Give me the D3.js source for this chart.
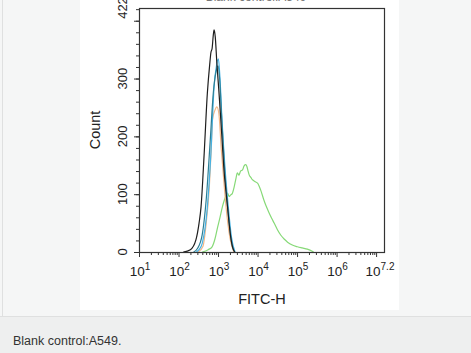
<!DOCTYPE html>
<html>
<head>
<meta charset="utf-8">
<script src="https://cdn.jsdelivr.net/npm/d3@7"></script>
<style>
  html, body { margin: 0; padding: 0; }
  body { width: 471px; height: 353px; overflow: hidden; background: #eeefef; font-family: "Liberation Sans", Arial, sans-serif; }
  #chart { display: block; }
</style>
</head>
<body>
<div id="chart"></div>
<script>
// Histogram series: [log10(FITC-H), count]
const blackSeries = [[2.12,0],[2.3,4],[2.44,21],[2.52,50],[2.57,78],[2.65,171],[2.73,275],[2.79,325],[2.82,345],[2.85,352],[2.88,375],[2.9,384],[2.93,372],[2.97,327],[3.02,280],[3.07,229],[3.11,185],[3.15,142],[3.2,105],[3.24,78],[3.28,50],[3.32,26],[3.37,8],[3.42,0]];
const tealSeries = [[2.38,0],[2.48,6],[2.6,30],[2.7,90],[2.8,190],[2.88,275],[2.95,312],[3.0,322],[3.04,300],[3.09,236],[3.16,150],[3.24,80],[3.32,28],[3.37,8],[3.43,0]];
const blueSeries = [[2.45,0],[2.52,4],[2.6,15],[2.73,78],[2.82,171],[2.9,286],[2.96,322],[3.01,334],[3.05,300],[3.1,229],[3.18,142],[3.26,78],[3.34,26],[3.43,0]];
const orangeSeries = [[2.5,0],[2.62,10],[2.69,43],[2.78,113],[2.83,180],[2.86,229],[2.92,245],[2.97,251],[3.02,240],[3.08,180],[3.15,120],[3.23,60],[3.32,18],[3.4,0]];
const greenSeries = [[2.6,0],[2.75,4],[2.85,9],[2.92,22],[2.99,43],[3.05,60],[3.11,78],[3.16,90],[3.2,97],[3.24,102],[3.28,96],[3.31,98],[3.36,101],[3.41,113],[3.45,126],[3.49,137],[3.53,133],[3.57,140],[3.62,142],[3.66,149],[3.7,151],[3.73,148],[3.76,140],[3.79,133],[3.83,129],[3.87,125],[3.93,122],[4.0,119],[4.08,107],[4.16,90],[4.22,79],[4.29,68],[4.36,58],[4.42,50],[4.5,39],[4.59,29],[4.68,22],[4.76,17],[4.88,12],[5.01,9],[5.13,7],[5.26,5],[5.42,0]];

const seriesList = [
  { data: greenSeries, color: "#86d977" },
  { data: orangeSeries, color: "#f2b787" },
  { data: blueSeries, color: "#45b3e6" },
  { data: tealSeries, color: "#2d7f95" },
  { data: blackSeries, color: "#1e1e1e" }
];

// Tick values
const xMajor = [1, 2, 3, 4, 5, 6, 7];
const xLabels = [1, 2, 3, 4, 5, 6, 7.2];
const yMajor = [0, 100, 200, 300, 400];
const yLabels = [0, 100, 200, 300, 422];
const yMinor = d3.range(0, 421, 20);
const xMinor = [];
for (let e = 1; e < 8; e++)
  for (let m = 2; m < 10; m++)
    if (e + Math.log10(m) < 7.2) xMinor.push(e + Math.log10(m));

const W = 471, H = 353;
const svg = d3.select("#chart").append("svg")
  .attr("width", W)
  .attr("height", H);

// page panels
svg.append("rect").attr("x", 0).attr("y", 0).attr("width", W).attr("height", 316).attr("fill", "#f5f6f6");
svg.append("line").attr("x1", 0).attr("x2", W).attr("y1", 316.5).attr("y2", 316.5).attr("stroke", "#dfe0e0");
svg.append("line").attr("x1", 2.5).attr("x2", 2.5).attr("y1", 0).attr("y2", 316).attr("stroke", "#dfe0e0");
svg.append("rect").attr("x", 80).attr("y", 0).attr("width", 319).attr("height", 310).attr("fill", "#fff");

// plot frame
const pLeft = 139, pRight = 384, pTop = 8, pBottom = 252;
const x = d3.scaleLinear().domain([1, 7.2]).range([pLeft, pRight]);
const y = d3.scaleLinear().domain([0, 422]).range([pBottom, pTop]);

// clipped title fragment
svg.append("text")
  .attr("x", 256).attr("y", 1)
  .attr("text-anchor", "middle")
  .attr("font-size", 12)
  .attr("fill", "#777")
  .text("Blank control:A549");

const plot = svg.append("g");

// curves
const line = d3.line()
  .x(d => x(d[0]))
  .y(d => y(d[1]))
  .curve(d3.curveMonotoneX);

seriesList.forEach(s => {
  plot.append("path")
    .datum(s.data)
    .attr("d", line)
    .attr("fill", "none")
    .attr("stroke", s.color)
    .attr("stroke-width", 1.2);
});

plot.append("rect")
  .attr("x", pLeft + 0.5).attr("y", pTop + 0.5)
  .attr("width", pRight - pLeft).attr("height", pBottom - pTop)
  .attr("fill", "none")
  .attr("stroke", "#333")
  .attr("stroke-width", 1.2);

// x axis ticks
const axisColor = "#333";
plot.selectAll(".xmaj").data(xMajor).enter().append("line")
  .attr("x1", d => x(d) + 0.5).attr("x2", d => x(d) + 0.5)
  .attr("y1", pBottom).attr("y2", pBottom + 5)
  .attr("stroke", axisColor);
plot.selectAll(".xmin").data(xMinor).enter().append("line")
  .attr("x1", d => x(d) + 0.5).attr("x2", d => x(d) + 0.5)
  .attr("y1", pBottom).attr("y2", pBottom + 3)
  .attr("stroke", axisColor);

const xl = plot.selectAll(".xlab").data(xLabels).enter().append("text")
  .attr("x", d => x(d) + (d === 7.2 ? -4 : 1))
  .attr("y", 276)
  .attr("text-anchor", "middle")
  .attr("font-size", 13.5)
  .attr("fill", "#222");
xl.append("tspan").text("10");
xl.append("tspan").attr("dy", -6).attr("font-size", 10).text(d => d);

// y axis ticks
plot.selectAll(".ymaj").data(yMajor).enter().append("line")
  .attr("x1", pLeft - 5).attr("x2", pLeft)
  .attr("y1", d => y(d) + 0.5).attr("y2", d => y(d) + 0.5)
  .attr("stroke", axisColor);
plot.selectAll(".ymin").data(yMinor).enter().append("line")
  .attr("x1", pLeft - 3).attr("x2", pLeft)
  .attr("y1", d => y(d) + 0.5).attr("y2", d => y(d) + 0.5)
  .attr("stroke", axisColor);

plot.selectAll(".ylab").data(yLabels).enter().append("text")
  .attr("transform", d => "translate(127," + y(d) + ") rotate(-90)")
  .attr("text-anchor", "middle")
  .attr("font-size", 13)
  .attr("fill", "#222")
  .text(d => d);

// axis titles
svg.append("text")
  .attr("x", 262).attr("y", 304)
  .attr("text-anchor", "middle")
  .attr("font-size", 14.5)
  .attr("fill", "#222")
  .text("FITC-H");

svg.append("text")
  .attr("transform", "translate(100,130) rotate(-90)")
  .attr("text-anchor", "middle")
  .attr("font-size", 14.5)
  .attr("fill", "#222")
  .text("Count");

// caption
svg.append("text")
  .attr("x", 13).attr("y", 345)
  .attr("font-size", 12.5)
  .attr("fill", "#333")
  .text("Blank control:A549.");
</script>
</body>
</html>
